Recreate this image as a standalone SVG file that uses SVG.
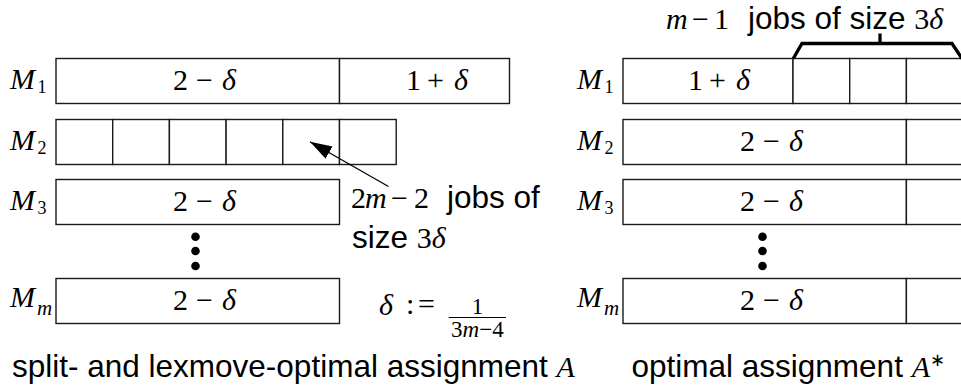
<svg xmlns="http://www.w3.org/2000/svg" width="961" height="392" viewBox="0 0 961 392">
<style>
  .box { fill: #fff; stroke: #1a1a1a; stroke-width: 1.4; }
  .serif { font-family: "Liberation Serif", "Times New Roman", serif; font-size: 30px; fill: #000; }
  .it { font-style: italic; }
  .sub { font-family: "Liberation Serif", "Times New Roman", serif; font-size: 18px; fill: #000; }
  .subm { font-family: "Liberation Serif", "Times New Roman", serif; font-size: 21px; font-style: italic; fill: #000; }
  .sans { font-family: "Liberation Sans", Arial, sans-serif; font-size: 31.5px; fill: #000; }
  .frac { font-family: "Liberation Serif", "Times New Roman", serif; font-size: 23px; fill: #000; }
  .dot { fill: #000; }
</style>
<defs>
  <marker id="ah" markerUnits="userSpaceOnUse" markerWidth="24" markerHeight="14" refX="22" refY="7" orient="auto">
    <path d="M0,0 L22,7 L0,14 Z" fill="#000"/>
  </marker>
</defs>
<rect width="961" height="392" fill="#fff"/>

<!-- Left: split- and lexmove-optimal assignment A -->
<g id="A-M1">
  <text class="serif it" x="10" y="89.3">M</text><text class="sub" x="37.5" y="92.5">1</text>
  <rect class="box" x="56" y="58.5" width="283.5" height="45"/>
  <rect class="box" x="339.5" y="58.5" width="170" height="45"/>
  <text class="serif" y="89.5"><tspan x="173">2</tspan><tspan x="196">−</tspan><tspan x="222" class="it">δ</tspan></text>
  <text class="serif" y="89.5"><tspan x="406">1</tspan><tspan x="427">+</tspan><tspan x="454" class="it">δ</tspan></text>
</g>
<g id="A-M2">
  <text class="serif it" x="10" y="150.3">M</text><text class="sub" x="37.5" y="153.5">2</text>
  <rect class="box" x="56" y="119.5" width="56.7" height="45"/>
  <rect class="box" x="112.7" y="119.5" width="56.7" height="45"/>
  <rect class="box" x="169.4" y="119.5" width="56.7" height="45"/>
  <rect class="box" x="226.1" y="119.5" width="56.7" height="45"/>
  <rect class="box" x="282.8" y="119.5" width="56.7" height="45"/>
  <rect class="box" x="339.5" y="119.5" width="56.7" height="45"/>
</g>
<g id="A-M3">
  <text class="serif it" x="10" y="210.3">M</text><text class="sub" x="37.5" y="213.5">3</text>
  <rect class="box" x="56" y="179.5" width="283.5" height="45"/>
  <text class="serif" y="210.5"><tspan x="173">2</tspan><tspan x="196">−</tspan><tspan x="222" class="it">δ</tspan></text>
</g>
<g id="A-dots">
  <circle class="dot" cx="195.5" cy="236.7" r="4.3"/>
  <circle class="dot" cx="195.5" cy="251" r="4.3"/>
  <circle class="dot" cx="195.5" cy="266" r="4.3"/>
</g>
<g id="A-Mm">
  <text class="serif it" x="10" y="306.7">M</text><text class="subm" x="37" y="315">m</text>
  <rect class="box" x="56" y="278.5" width="283.5" height="45"/>
  <text class="serif" y="309.5"><tspan x="173">2</tspan><tspan x="196">−</tspan><tspan x="222" class="it">δ</tspan></text>
</g>
<g id="A-note">
  <text class="serif" y="208.3"><tspan x="351">2</tspan><tspan x="365" class="it">m</tspan><tspan x="391">−</tspan><tspan x="414">2</tspan></text>
  <text class="sans" x="447" y="208.3">jobs of</text>
  <text class="sans" x="352" y="248.3">size <tspan class="serif">3</tspan><tspan class="serif it">δ</tspan></text>
</g>
<g id="A-delta">
  <text class="serif it" x="379" y="315">δ</text>
  <text class="serif" y="314"><tspan x="406">:</tspan><tspan x="418">=</tspan></text>
  <line x1="448.7" y1="317.5" x2="506" y2="317.5" stroke="#000" stroke-width="1.2"/>
  <text class="frac" x="477.4" y="314" text-anchor="middle">1</text>
  <text class="frac" x="477.4" y="336.5" text-anchor="middle">3<tspan class="it">m</tspan>−4</text>
</g>
<g id="A-caption">
  <text class="sans" x="12" y="376.7">split- and lexmove-optimal assignment <tspan class="serif it">A</tspan></text>
</g>

<!-- Right: optimal assignment A* -->
<g id="B-M1">
  <text class="serif it" x="577" y="89.3">M</text><text class="sub" x="604.5" y="92.5">1</text>
  <rect class="box" x="623" y="58.5" width="170" height="45"/>
  <rect class="box" x="793" y="58.5" width="56.7" height="45"/>
  <rect class="box" x="849.7" y="58.5" width="56.7" height="45"/>
  <rect class="box" x="906.4" y="58.5" width="56.7" height="45"/>
  <text class="serif" y="89.5"><tspan x="688">1</tspan><tspan x="709">+</tspan><tspan x="736" class="it">δ</tspan></text>
</g>
<g id="B-M2">
  <text class="serif it" x="577" y="150.3">M</text><text class="sub" x="604.5" y="153.5">2</text>
  <rect class="box" x="623" y="119.5" width="283.4" height="45"/>
  <rect class="box" x="906.4" y="119.5" width="56.7" height="45"/>
  <text class="serif" y="150.5"><tspan x="740">2</tspan><tspan x="763">−</tspan><tspan x="789" class="it">δ</tspan></text>
</g>
<g id="B-M3">
  <text class="serif it" x="577" y="210.3">M</text><text class="sub" x="604.5" y="213.5">3</text>
  <rect class="box" x="623" y="179.5" width="283.4" height="45"/>
  <rect class="box" x="906.4" y="179.5" width="56.7" height="45"/>
  <text class="serif" y="210.5"><tspan x="740">2</tspan><tspan x="763">−</tspan><tspan x="789" class="it">δ</tspan></text>
</g>
<g id="B-dots">
  <circle class="dot" cx="762.5" cy="236.7" r="4.3"/>
  <circle class="dot" cx="762.5" cy="251" r="4.3"/>
  <circle class="dot" cx="762.5" cy="266" r="4.3"/>
</g>
<g id="B-Mm">
  <text class="serif it" x="577" y="306.7">M</text><text class="subm" x="604" y="315">m</text>
  <rect class="box" x="623" y="278.5" width="283.4" height="45"/>
  <rect class="box" x="906.4" y="278.5" width="56.7" height="45"/>
  <text class="serif" y="309.5"><tspan x="740">2</tspan><tspan x="763">−</tspan><tspan x="789" class="it">δ</tspan></text>
</g>
<g id="B-note">
  <text class="serif" y="28.5"><tspan x="666" class="it">m</tspan><tspan x="692">−</tspan><tspan x="714">1</tspan></text>
  <text class="sans" x="748" y="28.5">jobs of size <tspan class="serif">3</tspan><tspan class="serif it">δ</tspan></text>
</g>
<g id="B-caption">
  <text class="sans" x="631.5" y="376.7">optimal assignment <tspan class="serif it">A</tspan><tspan class="sub" dy="-11">∗</tspan></text>
</g>

<g id="connectors">
  <line x1="388.5" y1="186.5" x2="310" y2="141.7" stroke="#000" stroke-width="1.3" marker-end="url(#ah)"/>
  <path d="M793.3,58.5 L802,43.5 L952,43.5 L962,58.5" fill="none" stroke="#000" stroke-width="3.3" stroke-linejoin="miter"/>
  <line x1="880" y1="43.5" x2="880" y2="33.5" stroke="#000" stroke-width="3.3"/>
</g>
</svg>
